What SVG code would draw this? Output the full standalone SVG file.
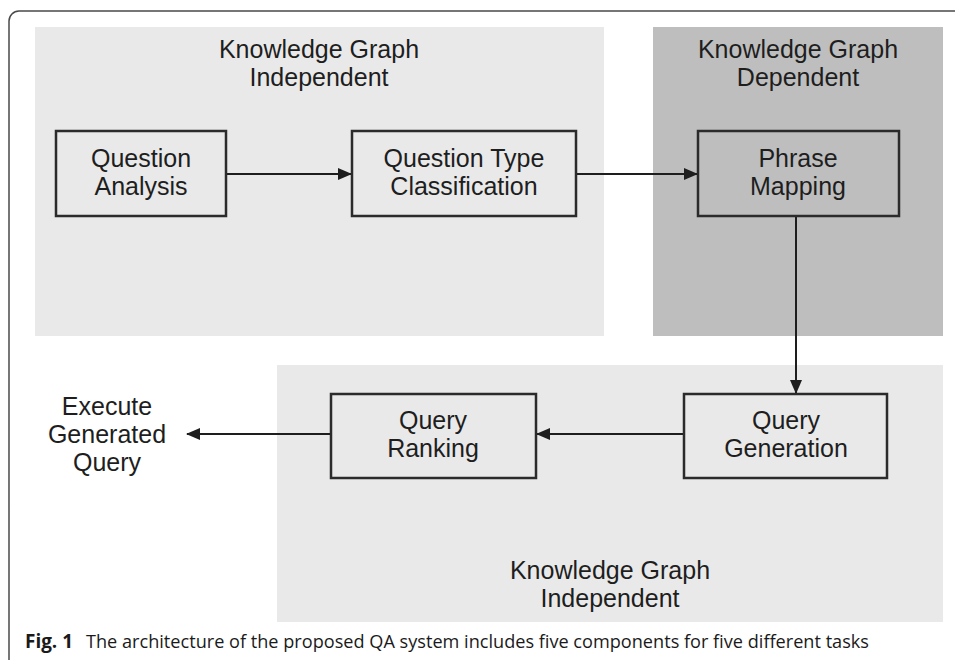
<svg xmlns="http://www.w3.org/2000/svg" width="955" height="660" viewBox="0 0 955 660">
<defs>
<style>
.lbl{font-family:"Liberation Sans",Arial,sans-serif;font-size:25px;fill:#1e1e1e;text-anchor:middle}
.box{stroke:#2b2b2b;stroke-width:2.5}
.con{stroke:#1e1e1e;stroke-width:2;fill:none}
.cap{font-family:"Open Sans","Noto Sans",sans-serif;font-size:19px;fill:#1a1a1a}
</style>
<marker id="ah" viewBox="0 0 14 12" refX="13" refY="6" markerWidth="14" markerHeight="12" markerUnits="userSpaceOnUse" orient="auto">
<path d="M0,0 L14,6 L0,12 Z" fill="#1e1e1e"/>
</marker>
</defs>
<rect x="0" y="0" width="955" height="660" fill="#ffffff"/>
<rect x="9" y="11" width="970" height="670" rx="10" fill="none" stroke="#4a4a4a" stroke-width="1.5"/>
<g id="panels">
<rect id="panel-independent-top" x="35" y="27" width="569" height="309" fill="#e9e9e9"/>
<rect id="panel-dependent" x="653" y="27" width="290" height="309" fill="#bebebe"/>
<rect id="panel-independent-bottom" x="277" y="365" width="666" height="257" fill="#e9e9e9"/>
<text class="lbl" x="319" y="58">Knowledge Graph</text>
<text class="lbl" x="319" y="86">Independent</text>
<text class="lbl" x="798" y="58">Knowledge Graph</text>
<text class="lbl" x="798" y="86">Dependent</text>
<text class="lbl" x="610" y="579">Knowledge Graph</text>
<text class="lbl" x="610" y="607">Independent</text>
</g>
<g id="connectors">
<line class="con" x1="226" y1="174" x2="351" y2="174" marker-end="url(#ah)"/>
<line class="con" x1="576" y1="174" x2="697" y2="174" marker-end="url(#ah)"/>
<line class="con" x1="796" y1="216" x2="796" y2="393" marker-end="url(#ah)"/>
<line class="con" x1="684" y1="434" x2="537" y2="434" marker-end="url(#ah)"/>
<line class="con" x1="331" y1="434" x2="187" y2="434" marker-end="url(#ah)"/>
</g>
<g id="question-analysis">
<rect class="box" x="56" y="131" width="170" height="85" fill="#e9e9e9"/>
<text class="lbl" x="141" y="167">Question</text>
<text class="lbl" x="141" y="195">Analysis</text>
</g>
<g id="question-type-classification">
<rect class="box" x="352" y="131" width="224" height="85" fill="#e9e9e9"/>
<text class="lbl" x="464" y="167">Question Type</text>
<text class="lbl" x="464" y="195">Classification</text>
</g>
<g id="phrase-mapping">
<rect class="box" x="698" y="131" width="201" height="85" fill="#bebebe"/>
<text class="lbl" x="798" y="167">Phrase</text>
<text class="lbl" x="798" y="195">Mapping</text>
</g>
<g id="query-generation">
<rect class="box" x="684" y="394" width="203" height="84" fill="#e9e9e9"/>
<text class="lbl" x="786" y="429">Query</text>
<text class="lbl" x="786" y="457">Generation</text>
</g>
<g id="query-ranking">
<rect class="box" x="331" y="394" width="205" height="84" fill="#e9e9e9"/>
<text class="lbl" x="433" y="429">Query</text>
<text class="lbl" x="433" y="457">Ranking</text>
</g>
<g id="execute-generated-query">
<text class="lbl" x="107" y="415">Execute</text>
<text class="lbl" x="107" y="443">Generated</text>
<text class="lbl" x="107" y="471">Query</text>
</g>
<g id="caption">
<text class="cap" x="25" y="648" font-weight="bold" textLength="48" lengthAdjust="spacingAndGlyphs">Fig. 1</text>
<text class="cap" x="86" y="648" textLength="783" lengthAdjust="spacingAndGlyphs">The architecture of the proposed QA system includes five components for five different tasks</text>
</g>
</svg>
